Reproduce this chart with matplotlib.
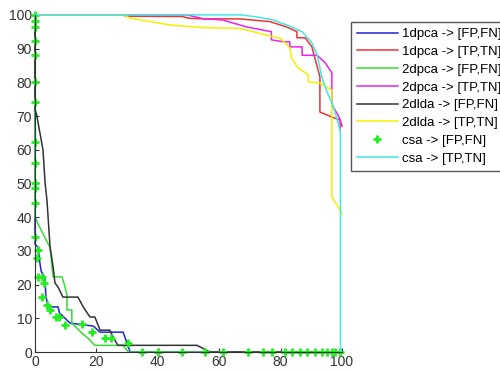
import matplotlib
matplotlib.use("Agg")
import matplotlib.pyplot as plt

plt.rcParams['font.family'] = ['Liberation Sans', 'DejaVu Sans']

labels = ['1dpca -> [FP,FN]', '1dpca -> [TP,TN]', '2dpca -> [FP,FN]', '2dpca -> [TP,TN]',
          '2dlda -> [FP,FN]', '2dlda -> [TP,TN]', 'csa -> [FP,FN]', 'csa -> [TP,TN]']

# 1dpca [FP,FN]
x_1dpca_fp = [0, 0, 1, 1.6, 2, 3.3, 3.5, 4.2, 7.5, 8, 11.4, 19, 21.2, 28.7, 31, 100]
y_1dpca_fp = [100, 32, 31, 26.4, 24, 22, 17, 13.4, 13.4, 11.6, 8.6, 7.7, 5.9, 5.9, 0, 0]
# 1dpca [TP,TN]
x_1dpca_tp = [0, 28, 30, 48, 50, 55, 66.8, 76.5, 82, 85.3, 85.3, 88, 90.2, 92.8, 92.8, 96.7, 99.4, 100]
y_1dpca_tp = [100, 100, 99.6, 99.5, 99, 98.8, 98.8, 98, 96.4, 95, 93.2, 93.2, 90.5, 81.6, 71.2, 69.7, 68.8, 67]
# 2dpca [FP,FN]
x_2dpca_fp = [0, 0, 1, 4.9, 5.9, 8.8, 9.8, 10.4, 10.4, 12, 12, 15.3, 17.3, 19.5, 28.7, 30.4, 100]
y_2dpca_fp = [100, 40, 38, 31, 22.3, 22.3, 19.3, 17, 12.5, 12.5, 8.6, 5.6, 4.1, 2, 2, 0, 0]
# 2dpca [TP,TN]
x_2dpca_tp = [0, 49.5, 55, 61, 69, 77, 77, 81, 83, 83, 87, 87, 91.9, 94.5, 96.7, 96.7, 98.7, 99.4, 99.4]
y_2dpca_tp = [100, 100, 98.8, 98.5, 96.4, 95, 92.6, 92, 92, 90.5, 90.5, 88, 88, 85.8, 82.8, 73.3, 70.3, 68.8, 65.9]
# 2dlda [FP,FN]
x_2dlda_fp = [0, 0, 0.5, 1, 1.8, 2.6, 3.3, 3.9, 4.9, 5.9, 6.5, 7.5, 9.1, 14, 15.7, 17.9, 19.5, 21.2, 24.4, 25.4, 27, 52.8, 57, 100]
y_2dlda_fp = [100, 72, 70.5, 68, 64, 60, 50, 45, 31.2, 25.2, 20.5, 19.3, 16.3, 16.3, 13.4, 10.4, 10.4, 6.5, 6.5, 4.5, 2, 2, 0, 0]
# 2dlda [TP,TN]
x_2dlda_tp = [0, 29, 31, 44, 55, 66.8, 77.5, 80, 83, 83.5, 85.7, 89, 89, 92.8, 96.7, 96.7, 99.4, 100]
y_2dlda_tp = [100, 100, 99, 97, 96.2, 96, 93.5, 93, 90.2, 87.2, 84.3, 82.2, 80.1, 79.8, 77.7, 46, 42.1, 41]
# csa [FP,FN] (markers only)
x_csa_fp = [0, 0, 0, 0, 0, 0, 0, 0, 0, 0, 0, 0, 0, 1, 0.7, 1, 2.3, 3, 2.3, 3.9, 4.9, 7, 7.7, 9.8,
            15.3, 18.5, 22.8, 24.6, 30.2, 34.9, 40, 47.9, 55.4, 61.2, 69.4, 74.3, 77.2, 81.4, 83.7,
            86.3, 88.6, 91.2, 93.5, 95.1, 96.7, 97.7, 99.3]
y_csa_fp = [100, 98.3, 96.4, 92.1, 88.1, 80.2, 74.3, 62.4, 56, 50.1, 48.6, 44.2, 34.1, 30.3, 27.9,
            22.3, 22.3, 20.5, 16.3, 14, 12.5, 10.4, 10.4, 8, 8.3, 5.9, 4.1, 4.1, 2.7, 0, 0, 0, 0, 0,
            0, 0, 0, 0, 0, 0, 0, 0, 0, 0, 0, 0, 0]
# csa [TP,TN]
x_csa_tp = [0, 67, 72, 77.5, 82, 87, 90.2, 91.9, 93.5, 95.1, 97, 98.7, 99.3, 99.5, 99.5]
y_csa_tp = [100, 100, 99.4, 98.5, 97, 95, 91.7, 88.1, 81.3, 77.2, 73.3, 68.2, 65.9, 64, 0]

x_ticks = [0, 20, 40, 60, 80, 100]
y_ticks = [0, 10, 20, 30, 40, 50, 60, 70, 80, 90, 100]

colors = ['#2222dd', '#ee3333', '#33dd33', '#ee22ee', '#333333', '#f2f000', '#22ee22', '#44e6e6']

fig = plt.figure(figsize=(5.0, 3.71), dpi=100)
ax = fig.add_axes([0.07, 0.051, 0.614, 0.909])

series = [(x_1dpca_fp, y_1dpca_fp), (x_1dpca_tp, y_1dpca_tp), (x_2dpca_fp, y_2dpca_fp),
          (x_2dpca_tp, y_2dpca_tp), (x_2dlda_fp, y_2dlda_fp), (x_2dlda_tp, y_2dlda_tp),
          (x_csa_fp, y_csa_fp), (x_csa_tp, y_csa_tp)]
handles = []
for i, ((xs, ys), lab, c) in enumerate(zip(series, labels, colors)):
    if i == 6:
        h, = ax.plot(xs, ys, linestyle='none', marker='+', markersize=6, mew=2,
                     color=c, label=lab, clip_on=False)
    else:
        h, = ax.plot(xs, ys, color=c, lw=1.1, label=lab, clip_on=False)
    handles.append(h)

ax.set_xlim(0, 100)
ax.set_ylim(0, 100)
ax.set_xticks(x_ticks)
ax.set_yticks(y_ticks)
ax.spines['top'].set_visible(False)
ax.spines['right'].set_visible(False)
for s in ['left', 'bottom']:
    ax.spines[s].set_color('#333333')
    ax.spines[s].set_linewidth(0.8)
ax.tick_params(direction='in', length=3, width=0.8, pad=2, labelsize=10,
               colors='#333333', labelcolor='#333333')

leg = fig.legend(handles=handles, loc='upper left', bbox_to_anchor=(351 / 500, 1 - 22 / 371),
                 bbox_transform=fig.transFigure, fontsize=9.5, frameon=True, fancybox=False,
                 handlelength=3.1, handletextpad=0.3, borderpad=0.45, labelspacing=0.42,
                 borderaxespad=0)
leg.get_frame().set_edgecolor('#555555')
leg.get_frame().set_linewidth(1.0)
leg.get_frame().set_alpha(1)

fig.savefig('out.png', dpi=100)
